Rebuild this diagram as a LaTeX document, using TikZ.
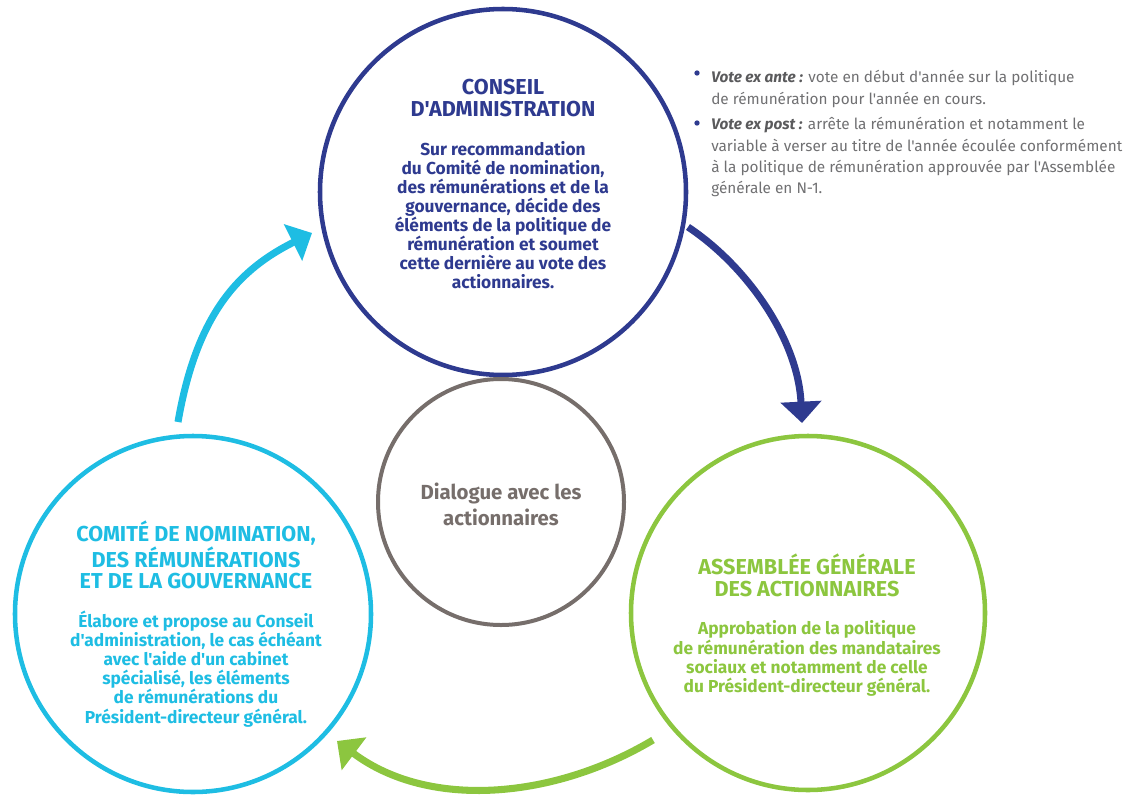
\documentclass[tikz,border=0pt]{standalone}
\usepackage{fontspec}
\setmainfont{Fira Sans}[Ligatures=TeXOff]
\usepackage{tikz}
\usetikzlibrary{positioning,arrows.meta}

\definecolor{navy}{HTML}{2E3A8F}
\definecolor{sky}{HTML}{1EBDE3}
\definecolor{leaf}{HTML}{8CC63F}
\definecolor{taupe}{HTML}{766E6B}
\definecolor{note}{HTML}{707072}
\definecolor{notedark}{HTML}{5A5A5C}

\tikzset{
  ring/.style={circle, draw=#1, line width=3.4pt, inner sep=0pt},
  headtxt/.style={font=\bfseries\fontsize{16.2}{16.3}\selectfont, align=center, inner sep=0pt},
  bodytxt/.style={font=\bfseries\fontsize{13}{14.3}\selectfont, align=center, inner sep=0pt},
  notetxt/.style={font=\fontsize{11.5}{16.1}\selectfont, text=note, align=left, inner sep=0pt, anchor=north west},
  dot/.style={circle, fill=navy, inner sep=0pt, minimum size=4pt},
  flow/.style={line width=5.3pt, -{Triangle[width=30pt,length=16pt]}}
}

\begin{document}
\begin{tikzpicture}[x=0.75pt,y=-0.75pt]
    \useasboundingbox (0,0) rectangle (1138,796);

    \node[ring=navy, minimum size=274.5pt] (conseil) at (503,192) {};
    \node[ring=sky, minimum size=267pt] (comite) at (193,614) {};
    \node[ring=leaf, minimum size=265.5pt] (assemblee) at (808,613) {};
    \node[ring=taupe, line width=3pt, minimum size=184.5pt] (dialogue) at (501,502) {};

    \node[headtxt, text=navy] (conseilT) at (503,98) {CONSEIL\\D'ADMINISTRATION};
    \node[bodytxt, text=navy, below=18pt of conseilT] (conseilB)
        {Sur recommandation\\du Comité de nomination,\\des rémunérations et de la\\gouvernance, décide des\\éléments de la politique de\\rémunération et soumet\\cette dernière au vote des\\actionnaires.};

    \node[headtxt, text=sky] (comiteT) at (196,555) {COMITÉ DE NOMINATION,\\DES RÉMUNÉRATIONS\\ET DE LA GOUVERNANCE};
    \node[bodytxt, text=sky, below=16pt of comiteT] (comiteB)
        {Élabore et propose au Conseil\\d'administration, le cas échéant\\avec l'aide d'un cabinet\\spécialisé, les éléments\\de rémunérations du\\Président-directeur général.};

    \node[headtxt, text=leaf] (assembleeT) at (807,575) {ASSEMBLÉE GÉNÉRALE\\DES ACTIONNAIRES};
    \node[bodytxt, text=leaf, below=18pt of assembleeT] (assembleeB)
        {Approbation de la politique\\de rémunération des mandataires\\sociaux et notamment de celle\\du Président-directeur général.};

    \node[font=\bfseries\fontsize{15.3}{19.5}\selectfont, text=taupe, align=center, inner sep=0pt] (dialogueT) at (501,504)
        {Dialogue avec les\\actionnaires};

    \node[dot] (dotA) at (697,73) {};
    \node[notetxt] (ante) at (711,70)
        {\textcolor{notedark}{\bfseries\itshape Vote ex ante :} vote en début d'année sur la politique\\de rémunération pour l'année en cours.};
    \node[dot] (dotB) at (697,123) {};
    \node[notetxt] (post) at (711,117)
        {\textcolor{notedark}{\bfseries\itshape Vote ex post :} arrête la rémunération et notamment le\\variable à verser au titre de l'année écoulée conformément\\à la politique de rémunération approuvée par l'Assemblée\\générale en N-1.};

    \coordinate (b0) at (688,227);
    \coordinate (b1) at (802,423);
    \coordinate (g0) at (653,740);
    \coordinate (g1) at (337,741);
    \coordinate (c0) at (178,422);
    \coordinate (c1) at (312,233);

    \draw[flow, navy] (b0) .. controls (748,267) and (798,340) .. (b1);
    \draw[flow, leaf] (g0) .. controls (554,799) and (429,810) .. (g1);
    \draw[flow, sky] (c0) .. controls (197,312) and (240,269) .. (c1);
\end{tikzpicture}
\end{document}
